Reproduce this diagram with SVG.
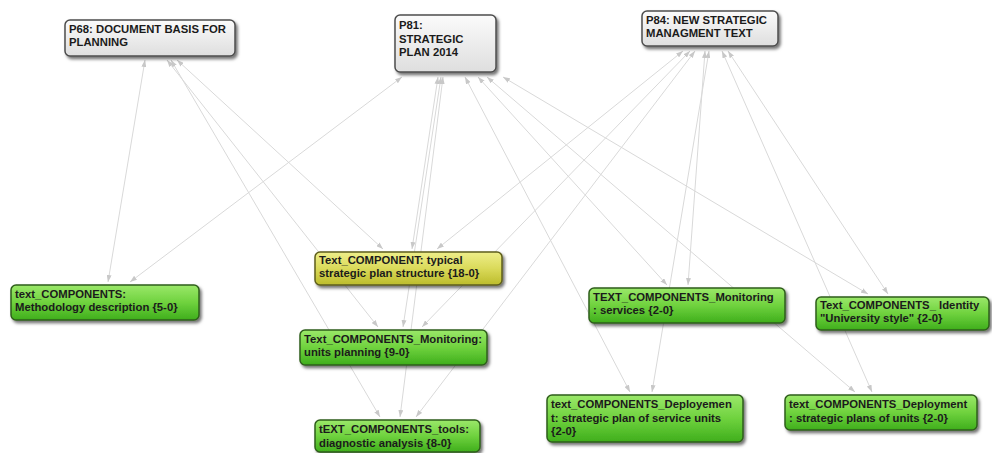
<svg xmlns="http://www.w3.org/2000/svg" width="992" height="453" viewBox="0 0 992 453">
  <defs>
    <linearGradient id="gDoc" x1="0" y1="0" x2="0" y2="1">
      <stop offset="0" stop-color="#fbfbfb"/>
      <stop offset="1" stop-color="#dedede"/>
    </linearGradient>
    <linearGradient id="gCode" x1="0" y1="0" x2="0" y2="1">
      <stop offset="0" stop-color="#9be86a"/>
      <stop offset="0.5" stop-color="#6fd23e"/>
      <stop offset="1" stop-color="#3fae1c"/>
    </linearGradient>
    <linearGradient id="gHub" x1="0" y1="0" x2="0" y2="1">
      <stop offset="0" stop-color="#eeee8a"/>
      <stop offset="0.5" stop-color="#dada5a"/>
      <stop offset="1" stop-color="#bcbc2c"/>
    </linearGradient>
    <filter id="shadow" x="-10%" y="-20%" width="125%" height="160%">
      <feDropShadow dx="2" dy="2.5" stdDeviation="1.4" flood-color="#000" flood-opacity="0.55"/>
    </filter>
    <marker id="arw" viewBox="0 0 7 5" refX="7" refY="2.5" markerWidth="7" markerHeight="5" markerUnits="userSpaceOnUse" orient="auto-start-reverse">
      <path d="M0,0 L7,2.5 L0,5 z" fill="#c8c8c8"/>
    </marker>
  </defs>
  <style>
    .edge { stroke: #d9d9d9; stroke-width: 1; fill: none; marker-start: url(#arw); marker-end: url(#arw); }
    .box { stroke: #4d4d4d; stroke-width: 1.5; filter: url(#shadow); }
    .doc { fill: url(#gDoc); }
    .code { fill: url(#gCode); stroke: #2f5e1c; }
    .hub { fill: url(#gHub); stroke: #5e5e1c; }
    text { font-family: "Liberation Sans", Arial, sans-serif; font-weight: bold; font-size: 11.3px; fill: #1b1b1b; }
  </style>

  <rect width="992" height="453" fill="#ffffff"/>

  <!-- links between documents and codes -->
  <g id="connectors">
    <line class="edge" x1="145" y1="60" x2="108" y2="282"/>
    <line class="edge" x1="402" y1="77" x2="130" y2="282"/>
    <line class="edge" x1="177" y1="60" x2="383" y2="249"/>
    <line class="edge" x1="167" y1="60" x2="378" y2="327"/>
    <line class="edge" x1="171" y1="60" x2="380" y2="417"/>
    <line class="edge" x1="438" y1="77" x2="412" y2="249"/>
    <line class="edge" x1="441" y1="77" x2="403" y2="327"/>
    <line class="edge" x1="443" y1="77" x2="400" y2="417"/>
    <line class="edge" x1="683" y1="51" x2="437" y2="249"/>
    <line class="edge" x1="690" y1="51" x2="422" y2="327"/>
    <line class="edge" x1="695" y1="51" x2="416" y2="417"/>
    <line class="edge" x1="465" y1="77" x2="630" y2="392"/>
    <line class="edge" x1="478" y1="77" x2="667" y2="285"/>
    <line class="edge" x1="487" y1="77" x2="855" y2="392"/>
    <line class="edge" x1="503" y1="77" x2="868" y2="294"/>
    <line class="edge" x1="705" y1="51" x2="688" y2="285"/>
    <line class="edge" x1="709" y1="51" x2="652" y2="392"/>
    <line class="edge" x1="722" y1="51" x2="872" y2="392"/>
    <line class="edge" x1="728" y1="51" x2="888" y2="294"/>
  </g>

  <!-- primary documents -->
  <g id="P68">
    <rect class="box doc" x="65" y="20" width="170" height="36" rx="5"/>
    <text x="69" y="33">P68: DOCUMENT BASIS FOR</text>
    <text x="69" y="46">PLANNING</text>
  </g>
  <g id="P81">
    <rect class="box doc" x="395" y="15" width="101" height="57" rx="5"/>
    <text x="399" y="29">P81:</text>
    <text x="399" y="42.5">STRATEGIC</text>
    <text x="399" y="56">PLAN 2014</text>
  </g>
  <g id="P84">
    <rect class="box doc" x="642" y="11" width="136" height="35" rx="5"/>
    <text x="646" y="24">P84: NEW STRATEGIC</text>
    <text x="646" y="37">MANAGMENT TEXT</text>
  </g>

  <!-- codes -->
  <g id="methodology">
    <rect class="box code" x="11" y="285" width="188" height="35" rx="5"/>
    <text x="15" y="298">text_COMPONENTS:</text>
    <text x="15" y="311">Methodology description {5-0}</text>
  </g>
  <g id="plan-structure">
    <rect class="box hub" x="315" y="252" width="187" height="33" rx="5"/>
    <text x="319" y="264">Text_COMPONENT: typical</text>
    <text x="319" y="277">strategic plan structure {18-0}</text>
  </g>
  <g id="units-planning">
    <rect class="box code" x="300" y="330" width="187" height="35" rx="5"/>
    <text x="304" y="342.5">Text_COMPONENTS_Monitoring:</text>
    <text x="304" y="356">units planning {9-0}</text>
  </g>
  <g id="tools">
    <rect class="box code" x="315" y="420" width="165" height="32" rx="5"/>
    <text x="319" y="433">tEXT_COMPONENTS_tools:</text>
    <text x="319" y="446.5">diagnostic analysis {8-0}</text>
  </g>
  <g id="services">
    <rect class="box code" x="589" y="288" width="196" height="35" rx="5"/>
    <text x="593" y="300.5">TEXT_COMPONENTS_Monitoring</text>
    <text x="593" y="314">: services {2-0}</text>
  </g>
  <g id="identity">
    <rect class="box code" x="816" y="297" width="173" height="33" rx="5"/>
    <text x="820" y="309">Text_COMPONENTS_ Identity</text>
    <text x="820" y="322">"University style" {2-0}</text>
  </g>
  <g id="deploy-service">
    <rect class="box code" x="547" y="395" width="196" height="47" rx="5"/>
    <text x="551" y="408">text_COMPONENTS_Deployemen</text>
    <text x="551" y="421.5">t: strategic plan of service units</text>
    <text x="551" y="435">{2-0}</text>
  </g>
  <g id="deploy-units">
    <rect class="box code" x="785" y="395" width="192" height="35" rx="5"/>
    <text x="789" y="408">text_COMPONENTS_Deployment</text>
    <text x="789" y="421.5">: strategic plans of units {2-0}</text>
  </g>
</svg>
